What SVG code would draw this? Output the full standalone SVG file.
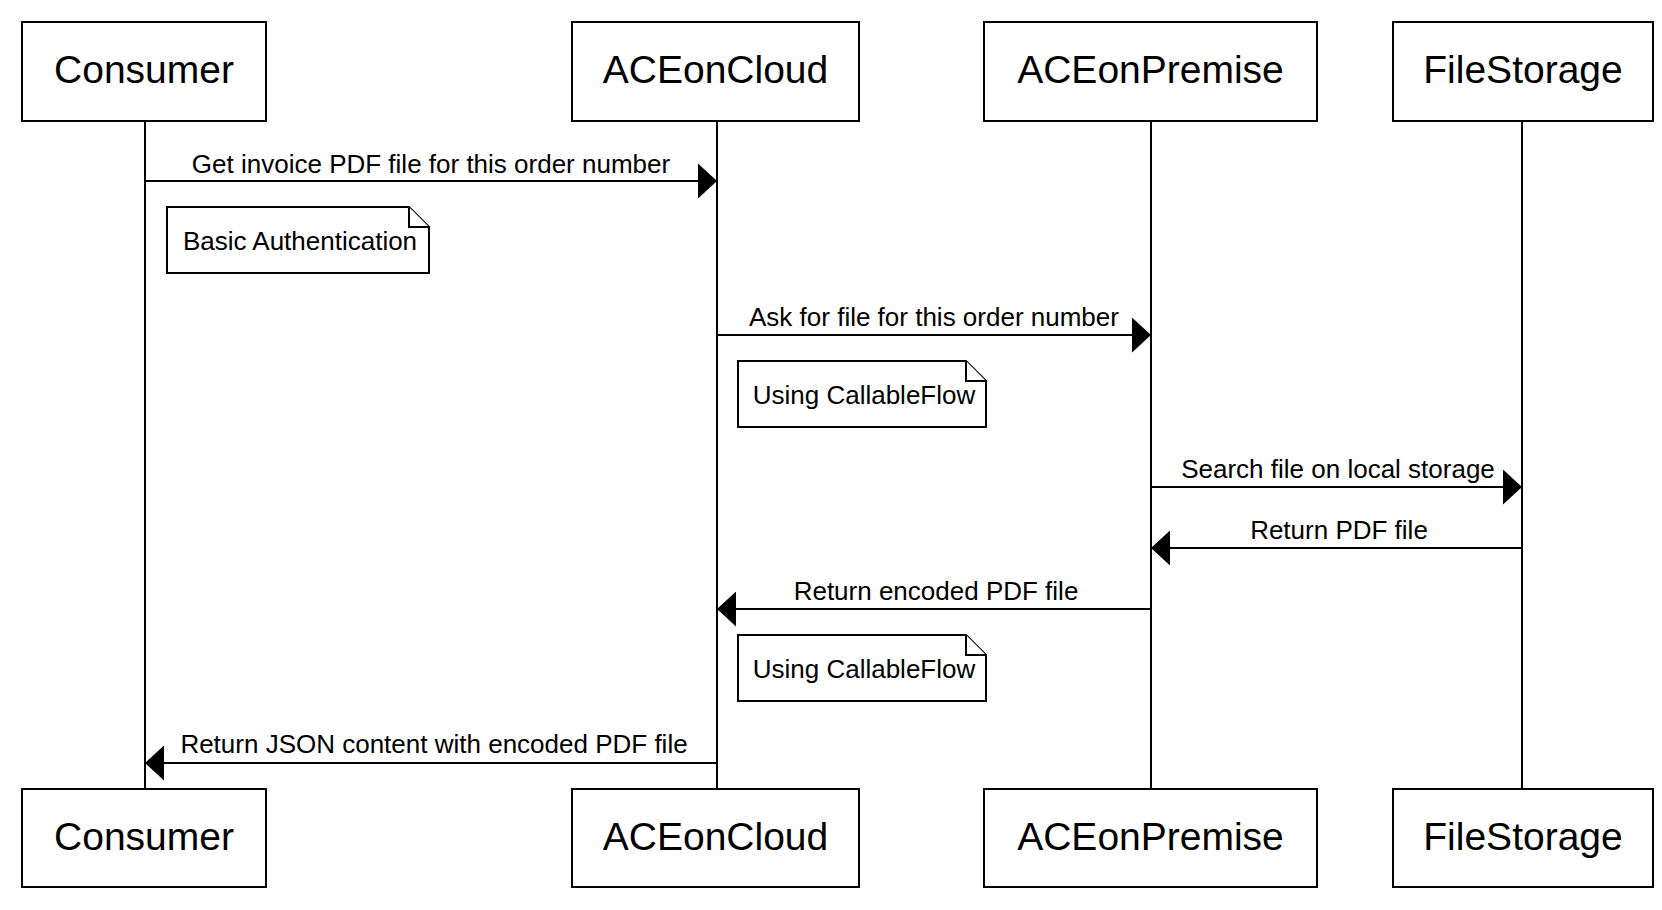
<svg xmlns="http://www.w3.org/2000/svg" width="1662" height="910" viewBox="0 0 1662 910">
<style>
.box{fill:#fff;stroke:#000;stroke-width:2}
.life{stroke:#000;stroke-width:2;fill:none}
.msg{stroke:#000;stroke-width:2;fill:none;marker-end:url(#arr)}
.note{fill:#fff;stroke:#000;stroke-width:2;stroke-linejoin:miter}
.title{font-family:"Liberation Sans",Arial,sans-serif;font-size:39px;fill:#000;text-anchor:middle}
.lbl{font-family:"Liberation Sans",Arial,sans-serif;font-size:26px;fill:#000;text-anchor:middle}
</style>
<defs>
<marker id="arr" viewBox="0 0 19 35" refX="19" refY="17.5" markerWidth="19" markerHeight="35" markerUnits="userSpaceOnUse" orient="auto">
<path d="M0,0 L19,17.5 L0,35 Z" fill="#000"/>
</marker>
</defs>
<rect width="1662" height="910" fill="#fff"/>
<g id="lifelines">
<line class="life" x1="145" y1="121" x2="145" y2="789"/>
<line class="life" x1="717" y1="121" x2="717" y2="789"/>
<line class="life" x1="1151" y1="121" x2="1151" y2="789"/>
<line class="life" x1="1522" y1="121" x2="1522" y2="789"/>
</g>
<g id="consumer-top"><rect class="box" x="22" y="22" width="244" height="99"/><text class="title" x="144" y="83">Consumer</text></g>
<g id="aceoncloud-top"><rect class="box" x="572" y="22" width="287" height="99"/><text class="title" x="715.5" y="83">ACEonCloud</text></g>
<g id="aceonpremise-top"><rect class="box" x="984" y="22" width="333" height="99"/><text class="title" x="1150.5" y="83">ACEonPremise</text></g>
<g id="filestorage-top"><rect class="box" x="1393" y="22" width="260" height="99"/><text class="title" x="1523" y="83">FileStorage</text></g>
<g id="consumer-bottom"><rect class="box" x="22" y="789" width="244" height="98"/><text class="title" x="144" y="850">Consumer</text></g>
<g id="aceoncloud-bottom"><rect class="box" x="572" y="789" width="287" height="98"/><text class="title" x="715.5" y="850">ACEonCloud</text></g>
<g id="aceonpremise-bottom"><rect class="box" x="984" y="789" width="333" height="98"/><text class="title" x="1150.5" y="850">ACEonPremise</text></g>
<g id="filestorage-bottom"><rect class="box" x="1393" y="789" width="260" height="98"/><text class="title" x="1523" y="850">FileStorage</text></g>
<g id="note-basic-auth">
<path class="note" d="M167,207 H409 L429,227 V273 H167 Z"/>
<path class="note" d="M409,207 V227 H429" fill="none"/>
<text class="lbl" x="300" y="250">Basic Authentication</text>
</g>
<g id="note-callable-1">
<path class="note" d="M738,361 H966 L986,381 V427 H738 Z"/>
<path class="note" d="M966,361 V381 H986" fill="none"/>
<text class="lbl" x="864" y="404">Using CallableFlow</text>
</g>
<g id="note-callable-2">
<path class="note" d="M738,635 H966 L986,655 V701 H738 Z"/>
<path class="note" d="M966,635 V655 H986" fill="none"/>
<text class="lbl" x="864" y="678">Using CallableFlow</text>
</g>
<g id="connectors">
<line class="msg" x1="145" y1="181" x2="717" y2="181"/>
<text class="lbl" x="431" y="173">Get invoice PDF file for this order number</text>
<line class="msg" x1="717" y1="335" x2="1151" y2="335"/>
<text class="lbl" x="934" y="326">Ask for file for this order number</text>
<line class="msg" x1="1151" y1="487" x2="1522" y2="487"/>
<text class="lbl" x="1338" y="478">Search file on local storage</text>
<line class="msg" x1="1522" y1="548" x2="1151" y2="548"/>
<text class="lbl" x="1339" y="539">Return PDF file</text>
<line class="msg" x1="1151" y1="609" x2="717" y2="609"/>
<text class="lbl" x="936" y="600">Return encoded PDF file</text>
<line class="msg" x1="717" y1="763" x2="145" y2="763"/>
<text class="lbl" x="434" y="753">Return JSON content with encoded PDF file</text>
</g>
</svg>
